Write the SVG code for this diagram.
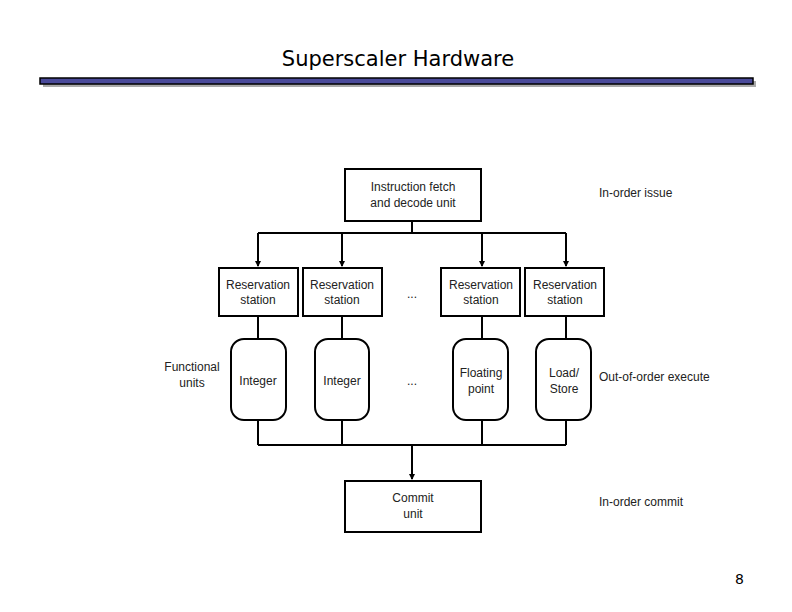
<svg xmlns="http://www.w3.org/2000/svg" width="792" height="612" viewBox="0 0 792 612">
<style>
.b{fill:#fff;stroke:#000;stroke-width:2}
.t{font-family:"Liberation Sans",Arial,sans-serif;font-size:12px;text-anchor:middle;fill:#222}
.l{font-family:"Liberation Sans",Arial,sans-serif;font-size:12px;fill:#222}
.c{fill:none;stroke:#000;stroke-width:2}
</style>
<defs><marker id="a" markerWidth="6" markerHeight="6" refX="5" refY="3" orient="auto" markerUnits="userSpaceOnUse"><path d="M0,0L6,3L0,6z" fill="#000"/></marker></defs>
<rect width="792" height="612" fill="#fff"/>
<text x="398" y="66" font-family="DejaVu Sans,sans-serif" font-size="21" text-anchor="middle">Superscaler Hardware</text>
<rect x="43" y="81" width="713" height="6" fill="#aaa"/>
<rect x="40" y="78" width="713" height="6" fill="#4a4a9a" stroke="#000" stroke-width="1.5"/>
<g id="connectors">
<path class="c" d="M412,221V233M258,233H566"/>
<path class="c" d="M258,233V266" marker-end="url(#a)"/>
<path class="c" d="M342,233V266" marker-end="url(#a)"/>
<path class="c" d="M482,233V266" marker-end="url(#a)"/>
<path class="c" d="M566,233V266" marker-end="url(#a)"/>
<path class="c" d="M258,316V339M342,316V339M482,316V339M566,316V339"/>
<path class="c" d="M258,420V445M342,420V445M482,420V445M566,420V445M258,445H566"/>
<path class="c" d="M412,445V479" marker-end="url(#a)"/>
</g>
<g id="fetch"><rect class="b" x="345" y="169" width="136" height="52"/><text class="t" x="413" y="191">Instruction fetch</text><text class="t" x="413" y="207">and decode unit</text></g>
<g id="rs1"><rect class="b" x="219" y="268" width="79" height="48"/><text class="t" x="258" y="289">Reservation</text><text class="t" x="258" y="304">station</text></g>
<g id="rs2"><rect class="b" x="303" y="268" width="79" height="48"/><text class="t" x="342" y="289">Reservation</text><text class="t" x="342" y="304">station</text></g>
<g id="rs3"><rect class="b" x="441" y="268" width="79" height="48"/><text class="t" x="481" y="289">Reservation</text><text class="t" x="481" y="304">station</text></g>
<g id="rs4"><rect class="b" x="525" y="268" width="79" height="48"/><text class="t" x="565" y="289">Reservation</text><text class="t" x="565" y="304">station</text></g>
<g id="fu1"><rect class="b" x="231" y="339" width="55" height="81" rx="13"/><text class="t" x="258" y="385">Integer</text></g>
<g id="fu2"><rect class="b" x="315" y="339" width="54" height="81" rx="13"/><text class="t" x="342" y="385">Integer</text></g>
<g id="fu3"><rect class="b" x="453" y="339" width="55" height="81" rx="13"/><text class="t" x="481" y="377">Floating</text><text class="t" x="481" y="393">point</text></g>
<g id="fu4"><rect class="b" x="536" y="339" width="55" height="81" rx="13"/><text class="t" x="564" y="377">Load/</text><text class="t" x="564" y="393">Store</text></g>
<g id="commit"><rect class="b" x="345" y="481" width="136" height="51"/><text class="t" x="413" y="502">Commit</text><text class="t" x="413" y="518">unit</text></g>
<text class="t" x="412" y="298">...</text>
<text class="t" x="412" y="385">...</text>
<text class="t" x="192" y="371">Functional</text>
<text class="t" x="192" y="387">units</text>
<text class="l" x="599" y="197">In-order issue</text>
<text class="l" x="599" y="381">Out-of-order execute</text>
<text class="l" x="599" y="506">In-order commit</text>
<text x="744" y="584" font-family="DejaVu Sans,sans-serif" font-size="14" text-anchor="end">8</text>
</svg>
